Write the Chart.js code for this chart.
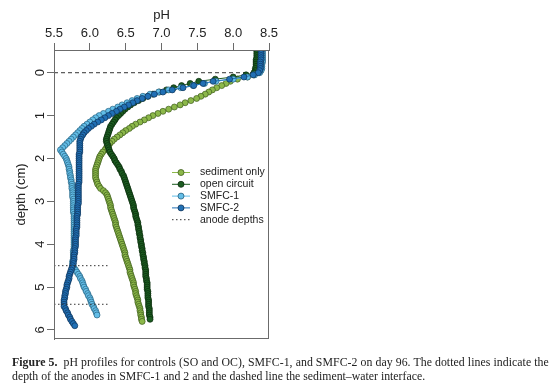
<!DOCTYPE html>
<html>
<head>
<meta charset="utf-8">
<script src="https://cdn.jsdelivr.net/npm/chart.js@4"></script>
<style>
  html, body { margin: 0; padding: 0; background: #fff; }
  #wrap { position: relative; width: 554px; height: 389px; }
  #caption {
    position: absolute; left: 12px; top: 355px;
    font-family: "Liberation Serif", "DejaVu Serif", serif;
    font-size: 11.8px; line-height: 14px; color: #222; white-space: nowrap;
  }
  #caption .l1 { letter-spacing: 0.06px; }
</style>
</head>
<body>
<div id="wrap">
  <canvas id="chart" width="554" height="389"></canvas>
  <div id="caption">
    <div class="l1"><b>Figure 5.</b>&ensp;pH profiles for controls (SO and OC), SMFC-1, and SMFC-2 on day 96. The dotted lines indicate the</div>
    <div>depth of the anodes in SMFC-1 and 2 and the dashed line the sediment&ndash;water interface.</div>
  </div>
</div>
<script>
// depth in cm, shared by all profiles (a profile stops where its array ends)
const depth = [
  -0.5, -0.45, -0.4, -0.35, -0.3, -0.25, -0.2, -0.15, -0.1, -0.05,
  0, 0.05, 0.1, 0.15, 0.2, 0.25, 0.3, 0.35, 0.4, 0.45,
  0.5, 0.55, 0.6, 0.65, 0.7, 0.75, 0.8, 0.85, 0.9, 0.95,
  1.0, 1.05, 1.1, 1.15, 1.2, 1.25, 1.3, 1.35, 1.4, 1.45,
  1.5, 1.55, 1.6, 1.65, 1.7, 1.75, 1.8, 1.85, 1.9, 1.95,
  2.0, 2.05, 2.1, 2.15, 2.2, 2.25, 2.3, 2.35, 2.4, 2.45,
  2.5, 2.55, 2.6, 2.65, 2.7, 2.75, 2.8, 2.85, 2.9, 2.95,
  3.0, 3.05, 3.1, 3.15, 3.2, 3.25, 3.3, 3.35, 3.4, 3.45,
  3.5, 3.55, 3.6, 3.65, 3.7, 3.75, 3.8, 3.85, 3.9, 3.95,
  4.0, 4.05, 4.1, 4.15, 4.2, 4.25, 4.3, 4.35, 4.4, 4.45,
  4.5, 4.55, 4.6, 4.65, 4.7, 4.75, 4.8, 4.85, 4.9, 4.95,
  5.0, 5.05, 5.1, 5.15, 5.2, 5.25, 5.3, 5.35, 5.4, 5.45,
  5.5, 5.55, 5.6, 5.65, 5.7, 5.75, 5.8, 5.85, 5.9];

// pH, one row per half centimetre
const sedimentOnly = [
  8.37, 8.37, 8.37, 8.37, 8.36, 8.36, 8.36, 8.36, 8.35, 8.35,
  8.33, 8.29, 8.2, 8.06, 7.96, 7.9, 7.84, 7.77, 7.71, 7.66,
  7.61, 7.55, 7.49, 7.41, 7.33, 7.26, 7.18, 7.1, 7.02, 6.95,
  6.88, 6.82, 6.76, 6.7, 6.64, 6.59, 6.55, 6.5, 6.46, 6.42,
  6.38, 6.34, 6.31, 6.28, 6.26, 6.23, 6.21, 6.18, 6.16, 6.14,
  6.13, 6.12, 6.11, 6.1, 6.09, 6.08, 6.08, 6.08, 6.08, 6.08,
  6.09, 6.1, 6.11, 6.13, 6.15, 6.19, 6.22, 6.24, 6.25, 6.26,
  6.27, 6.28, 6.29, 6.29, 6.3, 6.31, 6.32, 6.33, 6.34, 6.35,
  6.36, 6.36, 6.37, 6.38, 6.39, 6.4, 6.41, 6.42, 6.43, 6.44,
  6.45, 6.46, 6.47, 6.48, 6.49, 6.49, 6.5, 6.51, 6.52, 6.53,
  6.54, 6.55, 6.56, 6.56, 6.57, 6.58, 6.59, 6.6, 6.61, 6.61,
  6.62, 6.63, 6.64, 6.64, 6.65, 6.66, 6.67, 6.67, 6.68, 6.69,
  6.7, 6.7, 6.71, 6.71, 6.72, 6.72, 6.73];

const openCircuit = [
  8.33, 8.33, 8.33, 8.33, 8.32, 8.32, 8.32, 8.32, 8.31, 8.31,
  8.29, 8.18, 8.0, 7.75, 7.52, 7.4, 7.28, 7.17, 7.07, 6.97,
  6.88, 6.81, 6.74, 6.68, 6.62, 6.57, 6.53, 6.49, 6.46, 6.43,
  6.4, 6.37, 6.35, 6.33, 6.31, 6.29, 6.28, 6.27, 6.26, 6.25,
  6.24, 6.23, 6.23, 6.24, 6.25, 6.26, 6.27, 6.28, 6.3, 6.32,
  6.34, 6.35, 6.37, 6.39, 6.41, 6.42, 6.44, 6.45, 6.47, 6.48,
  6.49, 6.5, 6.51, 6.52, 6.53, 6.54, 6.55, 6.56, 6.57, 6.58,
  6.59, 6.6, 6.61, 6.61, 6.62, 6.63, 6.64, 6.64, 6.65, 6.66,
  6.67, 6.67, 6.68, 6.68, 6.69, 6.69, 6.7, 6.7, 6.71, 6.71,
  6.72, 6.72, 6.73, 6.73, 6.74, 6.74, 6.75, 6.75, 6.76, 6.76,
  6.77, 6.77, 6.78, 6.78, 6.78, 6.78, 6.79, 6.79, 6.8, 6.8,
  6.8, 6.8, 6.81, 6.81, 6.81, 6.81, 6.82, 6.82, 6.82, 6.82,
  6.83, 6.83, 6.83, 6.83, 6.84, 6.84];

const smfc1 = [
  8.41, 8.41, 8.41, 8.41, 8.41, 8.41, 8.4, 8.4, 8.4, 8.39,
  8.37, 8.3, 8.2, 8.0, 7.76, 7.6, 7.44, 7.27, 7.1, 6.96,
  6.84, 6.74, 6.66, 6.59, 6.52, 6.45, 6.39, 6.32, 6.26, 6.19,
  6.13, 6.08, 6.04, 6.0, 5.96, 5.92, 5.89, 5.86, 5.83, 5.8,
  5.77, 5.74, 5.71, 5.68, 5.65, 5.62, 5.59, 5.61, 5.63, 5.65,
  5.67, 5.68, 5.69, 5.7, 5.71, 5.71, 5.72, 5.72, 5.73, 5.73,
  5.74, 5.74, 5.75, 5.75, 5.75, 5.76, 5.76, 5.76, 5.76, 5.77,
  5.77, 5.77, 5.77, 5.77, 5.77, 5.77, 5.78, 5.78, 5.78, 5.78,
  5.78, 5.78, 5.78, 5.78, 5.78, 5.78, 5.78, 5.78, 5.78, 5.78,
  5.78, 5.78, 5.78, 5.77, 5.77, 5.77, 5.77, 5.77, 5.76, 5.76,
  5.76, 5.78, 5.8, 5.82, 5.84, 5.86, 5.87, 5.89, 5.9, 5.91,
  5.92, 5.94, 5.95, 5.97, 5.98, 6.0, 6.01, 6.02, 6.03, 6.05,
  6.06, 6.08, 6.09, 6.1];

const smfc2 = [
  8.39, 8.39, 8.39, 8.39, 8.39, 8.38, 8.38, 8.38, 8.38, 8.37,
  8.35, 8.28, 8.15, 7.95, 7.72, 7.58, 7.45, 7.3, 7.15, 7.02,
  6.9, 6.81, 6.73, 6.66, 6.6, 6.54, 6.48, 6.42, 6.37, 6.31,
  6.26, 6.21, 6.16, 6.11, 6.06, 6.02, 5.98, 5.95, 5.92, 5.9,
  5.88, 5.87, 5.86, 5.86, 5.86, 5.86, 5.86, 5.86, 5.85, 5.85,
  5.85, 5.85, 5.85, 5.85, 5.85, 5.85, 5.85, 5.85, 5.85, 5.85,
  5.85, 5.85, 5.84, 5.84, 5.84, 5.84, 5.84, 5.84, 5.84, 5.84,
  5.84, 5.84, 5.83, 5.83, 5.83, 5.83, 5.83, 5.82, 5.82, 5.82,
  5.82, 5.82, 5.82, 5.81, 5.81, 5.81, 5.81, 5.8, 5.8, 5.8,
  5.8, 5.8, 5.79, 5.79, 5.79, 5.78, 5.78, 5.78, 5.77, 5.77,
  5.76, 5.75, 5.74, 5.73, 5.72, 5.71, 5.71, 5.7, 5.69, 5.68,
  5.68, 5.67, 5.66, 5.66, 5.65, 5.65, 5.64, 5.64, 5.64, 5.64,
  5.66, 5.67, 5.69, 5.7, 5.72, 5.73, 5.75, 5.77, 5.79];

const anodeDepths = [4.5, 5.4];
const anodeSpan = [5.5, 6.25];
const interfaceDepth = 0;
const interfaceSpan = [5.5, 8.3];

const phTicks = [5.5, 6.0, 6.5, 7.0, 7.5, 8.0, 8.5];
const depthTicks = [0, 1, 2, 3, 4, 5, 6];

const FONT = '"Liberation Sans", Arial, Helvetica, sans-serif';
const AXIS_COL = '#6b6b6b';
const TEXT_COL = '#222';

function profile(values) {
    return values.map((v, i) => ({ x: v, y: depth[i] }));
}

function series(label, values, fill, edge, order) {
    return {
        label: label,
        data: profile(values),
        showLine: true,
        borderColor: fill,
        borderWidth: 1,
        pointRadius: 3,
        pointBackgroundColor: fill,
        pointBorderColor: edge,
        pointBorderWidth: 0.7,
        order: order
    };
}

const anodeData = [];
anodeDepths.forEach(d => {
    anodeData.push({ x: anodeSpan[0], y: d }, { x: anodeSpan[1], y: d }, { x: null, y: null });
});

const datasets = [
    series('sediment only', sedimentOnly, '#8cb84a', '#3d5c1c', 4),
    series('open circuit', openCircuit, '#1c5d21', '#0a2a0c', 3),
    series('SMFC-1', smfc1, '#63bee8', '#26617f', 2),
    series('SMFC-2', smfc2, '#2170b5', '#0d3258', 1),
    {
        label: 'anode depths',
        data: anodeData,
        showLine: true,
        spanGaps: false,
        borderColor: '#333',
        borderWidth: 1,
        borderDash: [1.5, 2.5],
        pointRadius: 0,
        order: 0
    },
    {
        label: '',
        data: [{ x: interfaceSpan[0], y: interfaceDepth }, { x: interfaceSpan[1], y: interfaceDepth }],
        showLine: true,
        borderColor: '#333',
        borderWidth: 1,
        borderDash: [4, 3],
        pointRadius: 0,
        order: 5
    }
];

// box round the plot region, like R's box()
const boxPlugin = {
    id: 'box',
    afterDraw(chart) {
        const a = chart.chartArea;
        const ctx = chart.ctx;
        ctx.save();
        ctx.strokeStyle = AXIS_COL;
        ctx.lineWidth = 1;
        ctx.strokeRect(Math.round(a.left) + 0.5, Math.round(a.top) + 0.5,
            Math.round(a.right - a.left) - 1, Math.round(a.bottom - a.top) - 1);
        ctx.restore();
    }
};

// legend with line + circle symbols, placed inside the plot
const legendPlugin = {
    id: 'rlegend',
    afterDraw(chart) {
        const ctx = chart.ctx;
        const x0 = 172;
        let y = 172;
        ctx.save();
        ctx.font = '10.5px ' + FONT;
        ctx.textBaseline = 'middle';
        chart.data.datasets.forEach(ds => {
            if (!ds.label) return;
            ctx.strokeStyle = ds.borderColor;
            ctx.lineWidth = 1;
            ctx.setLineDash(ds.borderDash || []);
            ctx.beginPath();
            ctx.moveTo(x0, y + 0.5);
            ctx.lineTo(x0 + 18, y + 0.5);
            ctx.stroke();
            ctx.setLineDash([]);
            if (ds.pointRadius) {
                ctx.beginPath();
                ctx.arc(x0 + 9, y + 0.5, 3, 0, Math.PI * 2);
                ctx.fillStyle = ds.pointBackgroundColor;
                ctx.fill();
                ctx.strokeStyle = ds.pointBorderColor;
                ctx.lineWidth = 0.8;
                ctx.stroke();
            }
            ctx.fillStyle = TEXT_COL;
            ctx.fillText(ds.label, x0 + 28, y + 0.5);
            y += 11.8;
        });
        ctx.restore();
    }
};

const config = {
    type: 'scatter',
    data: { datasets: datasets },
    options: {
        responsive: false,
        animation: false,
        layout: { padding: { left: 0, top: 0, right: 285, bottom: 50 } },
        plugins: {
            legend: { display: false },
            tooltip: { enabled: false }
        },
        scales: {
            x: {
                type: 'linear',
                position: 'top',
                min: 5.5,
                max: 8.5,
                afterBuildTicks: s => { s.ticks = phTicks.map(v => ({ value: v })); },
                afterFit: s => { s.height = 50; },
                ticks: {
                    callback: v => v.toFixed(1),
                    font: { family: FONT, size: 13 },
                    color: TEXT_COL,
                    padding: 2,
                    maxRotation: 0,
                    minRotation: 0
                },
                grid: { drawOnChartArea: false, drawTicks: true, tickLength: 7, color: AXIS_COL },
                border: { display: true, color: AXIS_COL },
                title: {
                    display: true, text: 'pH', color: TEXT_COL,
                    font: { family: FONT, size: 13 },
                    padding: { top: 8, bottom: 0 }
                }
            },
            y: {
                type: 'linear',
                reverse: true,
                min: -0.53,
                max: 6.21,
                afterBuildTicks: s => { s.ticks = depthTicks.map(v => ({ value: v })); },
                afterFit: s => { s.width = 54; },
                ticks: {
                    font: { family: FONT, size: 13 },
                    color: TEXT_COL,
                    padding: 3,
                    minRotation: 90,
                    maxRotation: 90,
                    crossAlign: 'center'
                },
                grid: { drawOnChartArea: false, drawTicks: true, tickLength: 7, color: AXIS_COL },
                border: { display: true, color: AXIS_COL },
                title: {
                    display: true, text: 'depth (cm)', color: TEXT_COL,
                    font: { family: FONT, size: 13 },
                    padding: { top: 14, bottom: 0 }
                }
            }
        }
    },
    plugins: [boxPlugin, legendPlugin]
};

const ctx = document.getElementById('chart').getContext('2d');
new Chart(ctx, config);
</script>
</body>
</html>
